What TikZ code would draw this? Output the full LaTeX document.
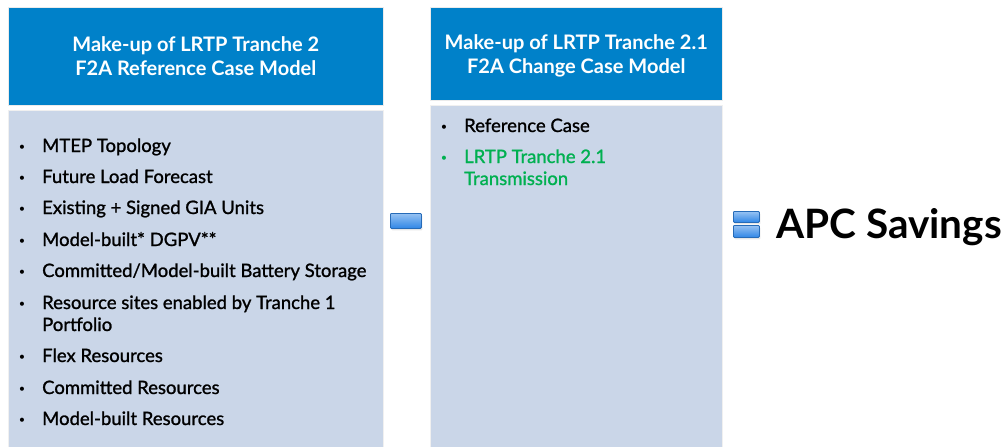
\documentclass[tikz,border=0pt]{standalone}
\usepackage{fontspec}
\setmainfont{Lato}
\newfontface\itemfont{Lato}[RawFeature={embolden=1.2}]
\usepackage{xcolor}
\usepackage{tikz}
\usetikzlibrary{positioning,shadows}
\definecolor{MISOblue}{HTML}{0081C9}
\definecolor{MISOpale}{HTML}{CAD6E8}
\definecolor{MISOgreen}{HTML}{00B050}
\definecolor{OPblue}{HTML}{2F86E6}

\begin{document}
\begin{tikzpicture}[
  x=1pt,y=-1pt,
  head/.style={fill=MISOblue,draw=black!8,line width=0.6pt,text=white,align=center,anchor=north west,
    inner sep=0pt,text depth=-3pt,font=\bfseries\fontsize{20}{24}\selectfont},
  body/.style={fill=MISOpale,draw=black!6,line width=0.6pt,anchor=north west,inner sep=0pt},
  % multi-line items: the node sits on the baseline of its last line
  item/.style={anchor=base west,align=left,inner sep=0pt,font=\itemfont\fontsize{18.5}{22}\selectfont},
  dot/.style={anchor=base,inner sep=0pt,font=\fontsize{11}{12}\selectfont},
  % blue operator bars (minus / equals)
  opbar/.style={draw=OPblue!80!black,line width=0.8pt,rounded corners=1pt,anchor=north west,inner sep=0pt,
    top color=OPblue!50!white,bottom color=OPblue,
    drop shadow={opacity=0.2,shadow xshift=1pt,shadow yshift=-2pt}}
]
\useasboundingbox (0,0) rectangle (1007,447);

% --- reference case panel ---
\node[head,minimum width=375pt,minimum height=98pt] (refhead) at (8,7)
  {Make-up of LRTP Tranche 2\\F2A Reference Case Model};
\node[body,minimum width=375pt,minimum height=340pt] (refbody) at (8,110) {};
\foreach \yy/\ty/\txt in {152/152/{MTEP Topology},183/183/{Future Load Forecast},
    214/214/{Existing + Signed GIA Units},246/246/{Model-built* DGPV**},
    277/277/{Committed/Model-built Battery Storage},
    309/331/{Resource sites enabled by Tranche 1\\Portfolio},362/362/{Flex Resources},
    394/394/{Committed Resources},425/425/{Model-built Resources}} {
  \node[dot] (refdot\yy) at (22,\yy-2) {•};
  \node[item] (refitem\yy) at (42,\ty) {\txt};
}

% --- change case panel ---
\node[head,minimum width=292pt,minimum height=93pt] (chghead) at (430,7)
  {Make-up of LRTP Tranche 2.1\\F2A Change Case Model};
\node[body,minimum width=292pt,minimum height=345pt] (chgbody) at (430,105) {};
\node[dot] (chgdot1) at (444,130) {•};
\node[item] (chgitem1) at (464,132) {Reference Case};
\node[dot,text=MISOgreen] (chgdot2) at (444,161) {•};
\node[item,text=MISOgreen] (chgitem2) at (464,185) {LRTP Tranche 2.1\\Transmission};

% --- operators and result ---
\node[opbar,minimum width=31pt,minimum height=15pt] (minus) at (390,213) {};
\node[opbar,minimum width=26pt,minimum height=11pt] (eqtop) at (733,211) {};
\node[opbar,minimum width=26pt,minimum height=12pt] (eqbot) at (733,225) {};
\node[anchor=base west,inner sep=0pt,font=\bfseries\fontsize{40.5}{44}\selectfont] (apc) at (776,238) {APC Savings};
\end{tikzpicture}
\end{document}
